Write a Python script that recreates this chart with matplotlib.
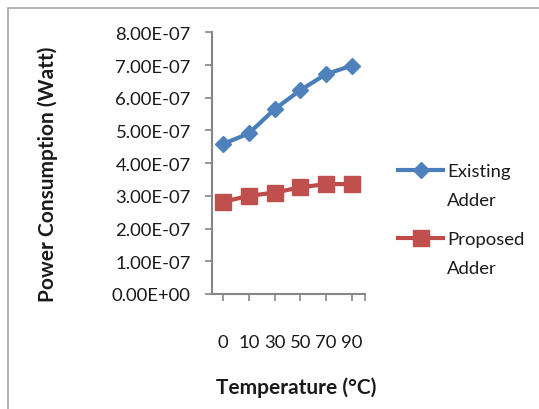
import matplotlib.pyplot as plt
from matplotlib.patches import Rectangle

# Data
temperatures = ["0", "10", "30", "50", "70", "90"]
existing_adder = [4.59e-7, 4.91e-7, 5.65e-7, 6.23e-7, 6.72e-7, 6.98e-7]
proposed_adder = [2.82e-7, 3.00e-7, 3.10e-7, 3.26e-7, 3.36e-7, 3.36e-7]
y_ticks = [0, 1e-7, 2e-7, 3e-7, 4e-7, 5e-7, 6e-7, 7e-7, 8e-7]
y_tick_labels = ["0.00E+00", "1.00E-07", "2.00E-07", "3.00E-07", "4.00E-07",
                 "5.00E-07", "6.00E-07", "7.00E-07", "8.00E-07"]

plt.rcParams['font.family'] = ['Lato', 'DejaVu Sans']
W, H = 539, 410
fig = plt.figure(figsize=(W / 100, H / 100), dpi=100)
txt = "#1a1a1a"

# chart area frame
fig.patches.append(Rectangle((7.5 / W, -0.1), 1.2, 1 - 8.5 / H + 0.1,
                             transform=fig.transFigure, fill=False,
                             edgecolor="#a6a6a6", lw=1.2))

ax = fig.add_axes([211.7 / W, 1 - 295 / H, (365 - 211.7) / W, (295 - 33.3) / H])
x = list(range(len(temperatures)))

ax.plot(x, existing_adder, color="#4a7ebb", lw=3, marker="D", ms=8.5,
        mfc="#4f81bd", mec="#4f81bd", label="Existing")
ax.plot(x, proposed_adder, color="#be4b48", lw=3, marker="s", ms=11,
        mfc="#c0504d", mec="#c0504d", label="Proposed")

ax.set_xlim(-0.45, 5.52)
ax.set_ylim(0, 8e-7)
ax.set_yticks(y_ticks)
ax.set_yticklabels(y_tick_labels)
ax.set_xticks(x + [5.52])
ax.set_xticklabels(temperatures + [""])

for s in ["top", "right"]:
    ax.spines[s].set_visible(False)
for s in ["left", "bottom"]:
    ax.spines[s].set_color("#868686")
    ax.spines[s].set_linewidth(1.5)
ax.tick_params(axis="y", direction="out", length=5, width=1.2, color="#868686",
               pad=10, labelsize=13.3, labelcolor=txt)
ax.tick_params(axis="x", direction="out", length=5, width=1.2, color="#868686",
               pad=24, labelsize=13.3, labelcolor=txt)

fig.text(48 / W, 1 - 174 / H, "Power Consumption (Watt)", rotation=90,
         ha="center", va="center", fontsize=15, fontweight="bold", color=txt)
fig.text(296 / W, 1 - 388 / H, "Temperature (°C)", ha="center", va="center",
         fontsize=15, fontweight="bold", color=txt)

# legend: first word next to the marker, "Adder" on a second line
leg = ax.legend(loc="upper left", bbox_to_anchor=(398 / W, 1 - 164 / H),
                bbox_transform=fig.transFigure, frameon=False, fontsize=13.3,
                handlelength=2.45, handletextpad=0.2, labelspacing=2.83,
                borderpad=0, borderaxespad=0)
for t in leg.get_texts():
    t.set_color(txt)
    ax.annotate("Adder", xy=(0, 0), xycoords=t, xytext=(0, -20.6),
                textcoords="offset points", ha="left", va="bottom",
                fontsize=13.3, color=txt, zorder=10, annotation_clip=False)

fig.savefig("out.png", dpi=100)
